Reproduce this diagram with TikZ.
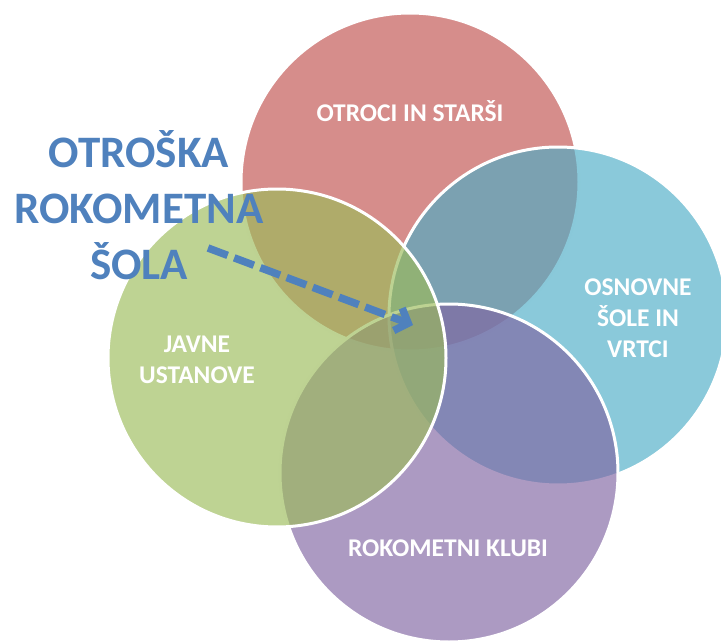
\documentclass[tikz,border=0pt]{standalone}
\usepackage{fontspec}
\setmainfont{Carlito}
\usetikzlibrary{arrows.meta}
\definecolor{vred}{HTML}{C0504D}
\definecolor{vblue}{HTML}{4BACC6}
\definecolor{vpurple}{HTML}{8064A2}
\definecolor{vgreen}{HTML}{9BBB59}
\definecolor{titleblue}{HTML}{4F81BD}
\tikzset{
  venn/.style={circle, minimum size=338pt, inner sep=0pt, draw=white, line width=3pt, fill opacity=0.65},
  vlabel/.style={text=white, font=\bfseries\fontsize{25.5}{31}\selectfont, align=center},
  pointer/.style={draw=titleblue, line width=7.5pt, dash pattern=on 21pt off 7pt, -{Straight Barb[length=11pt, width=24pt]}}
}
\begin{document}
\begin{tikzpicture}[x=1pt, y=-1pt]
  \useasboundingbox (0,0) rectangle (721,642);
  \clip (0,0) rectangle (721,642);
  % four overlapping circles, drawn back to front
  \node[venn, fill=vred]    (parents) at (410,182) {};
  \node[venn, fill=vblue]   (schools) at (558,316) {};
  \node[venn, fill=vpurple] (clubs)   at (449,473) {};
  \node[venn, fill=vgreen]  (public)  at (277,358) {};
  % circle captions
  \node[vlabel] (tparents) at (410,111) {OTROCI IN STARŠI};
  \node[vlabel] (tschools) at (638,318) {OSNOVNE\\ŠOLE IN\\VRTCI};
  \node[vlabel] (tpublic)  at (197,360) {JAVNE\\USTANOVE};
  \node[vlabel] (tclubs)   at (448,548) {ROKOMETNI KLUBI};
  % title and pointer into the common overlap
  \node[text=titleblue, font=\bfseries\fontsize{45}{56}\selectfont, align=center] (title) at (139,205) {OTROŠKA\\ROKOMETNA\\ŠOLA};
  \coordinate (from) at (208,248);
  \coordinate (core) at (413,325);
  \draw[pointer] (from) -- (core);
\end{tikzpicture}
\end{document}
